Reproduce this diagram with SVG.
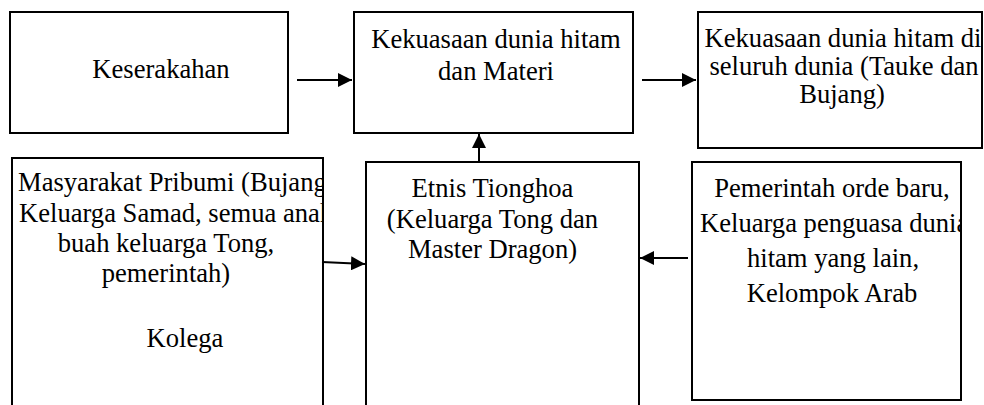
<svg xmlns="http://www.w3.org/2000/svg" width="984" height="405" viewBox="0 0 984 405">
<style>
.box{fill:#fff;stroke:#000;stroke-width:2}
.t{font-family:"Liberation Serif","Times New Roman",serif;font-size:26.6px;fill:#000}
.m{text-anchor:middle}
.c{stroke:#000;stroke-width:2;fill:none}
</style>
<defs>
<marker id="ah" viewBox="0 0 14 14" refX="14" refY="7" markerWidth="14" markerHeight="14" markerUnits="userSpaceOnUse" orient="auto">
<path d="M0,0 L14,7 L0,14 Z" fill="#000"/>
</marker>
<clipPath id="c4"><rect x="12" y="158" width="311" height="260"/></clipPath>
<clipPath id="c3"><rect x="698" y="12" width="284" height="136"/></clipPath>
<clipPath id="c6"><rect x="692" y="162" width="269" height="238"/></clipPath>
</defs>
<rect width="984" height="405" fill="#fff"/>
<g id="n1">
<rect class="box" x="10" y="12" width="278" height="121"/>
<text class="t m" x="161" y="78">Keserakahan</text>
</g>
<g id="n2">
<rect class="box" x="354" y="12" width="279" height="121"/>
<text class="t m" x="496" y="48">Kekuasaan dunia hitam</text>
<text class="t m" x="496" y="80">dan Materi</text>
</g>
<g id="n3">
<rect class="box" x="698" y="12" width="284" height="136"/>
<g clip-path="url(#c3)">
<text class="t m" x="843" y="47">Kekuasaan dunia hitam di</text>
<text class="t m" x="844" y="75">seluruh dunia (Tauke dan</text>
<text class="t m" x="842" y="103">Bujang)</text>
</g>
</g>
<g id="n4">
<rect class="box" x="12" y="158" width="311" height="260"/>
<g clip-path="url(#c4)">
<text class="t" x="18" y="191">Masyarakat Pribumi (Bujang,</text>
<text class="t" x="19" y="222">Keluarga Samad, semua anak</text>
<text class="t m" x="166" y="252">buah keluarga Tong,</text>
<text class="t m" x="166" y="282">pemerintah)</text>
<text class="t m" x="185" y="347">Kolega</text>
</g>
</g>
<g id="n5">
<rect class="box" x="366" y="162" width="273" height="260"/>
<text class="t m" x="492.5" y="197">Etnis Tionghoa</text>
<text class="t m" x="492.5" y="228">(Keluarga Tong dan</text>
<text class="t m" x="492.5" y="258">Master Dragon)</text>
</g>
<g id="n6">
<rect class="box" x="692" y="162" width="269" height="238"/>
<g clip-path="url(#c6)">
<text class="t m" x="832" y="197">Pemerintah orde baru,</text>
<text class="t" x="700" y="232">Keluarga penguasa dunia</text>
<text class="t m" x="833" y="267">hitam yang lain,</text>
<text class="t m" x="832" y="302">Kelompok Arab</text>
</g>
</g>
<g id="connectors">
<line class="c" x1="297" y1="80" x2="352" y2="80" marker-end="url(#ah)"/>
<line class="c" x1="642" y1="80" x2="696" y2="80" marker-end="url(#ah)"/>
<line class="c" x1="479" y1="162" x2="479" y2="134" marker-end="url(#ah)"/>
<line class="c" x1="322" y1="262" x2="365" y2="264" marker-end="url(#ah)"/>
<line class="c" x1="688" y1="258" x2="640" y2="258" marker-end="url(#ah)"/>
</g>
</svg>
